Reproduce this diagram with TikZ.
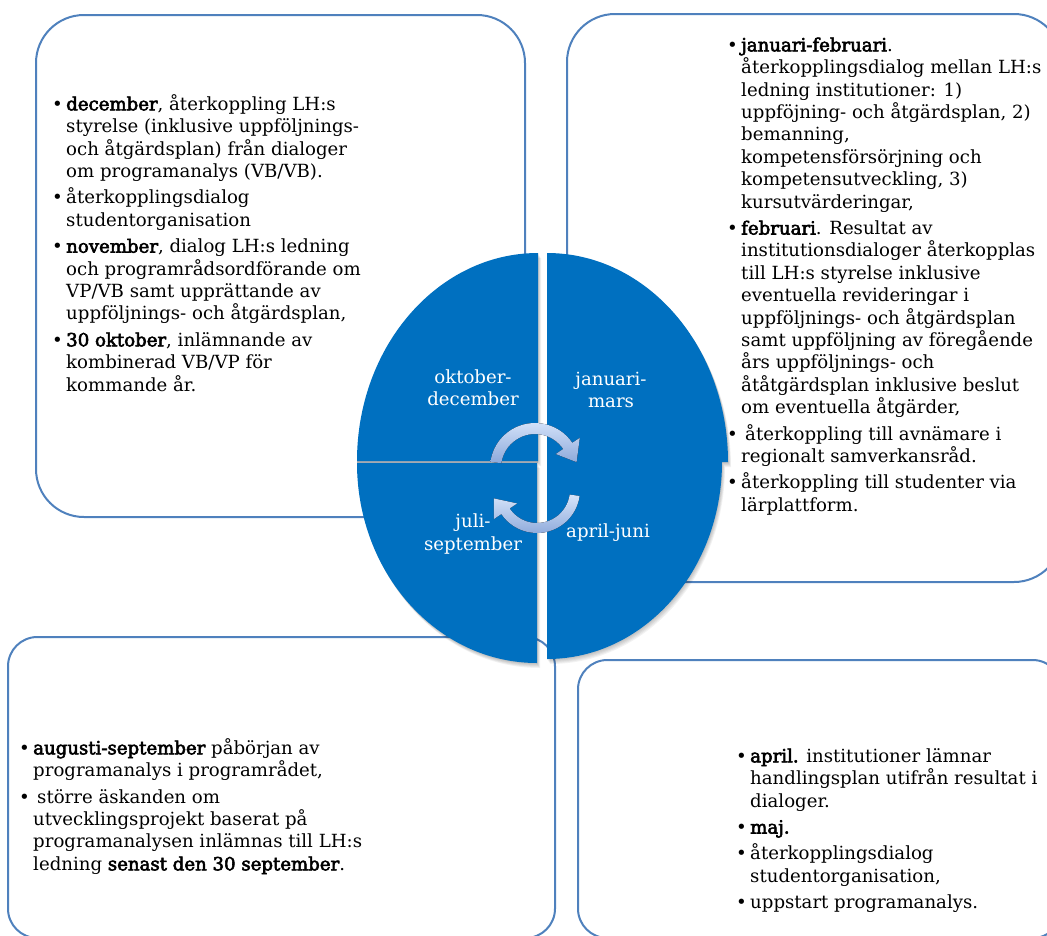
\documentclass[tikz,border=0pt]{standalone}
\usepackage{fontspec}
\setmainfont{DejaVu Serif}[BoldFont={DejaVu Serif}, BoldFeatures={FakeBold=3}]
\usetikzlibrary{calc}
\definecolor{boxblue}{RGB}{79,129,189}
\definecolor{quadblue}{RGB}{0,112,192}
\definecolor{arrtop}{RGB}{214,228,250}
\definecolor{arrbot}{RGB}{140,168,218}
\definecolor{gapgray}{RGB}{165,170,178}
\newcommand\bul{\makebox[8pt][l]{\hspace{-2.5pt}•}}
\newcommand\ind{\hspace*{8pt}}
\newcommand\fst{\rule{0pt}{13pt}}
\newcommand\qTL{(538,461) -- (357,461) arc[start angle=180, end angle=270, x radius=181, y radius=208] -- cycle}
\newcommand\qTR{(547,462) -- (547,253) arc[start angle=270, end angle=360, x radius=181, y radius=209] -- cycle}
\newcommand\qBR{(547,462) -- (722,462) arc[start angle=0, end angle=90, x radius=175, y radius=197] -- cycle}
\newcommand\qBL{(537,463) -- (537,663) arc[start angle=90, end angle=180, x radius=180, y radius=200] -- cycle}
\begin{document}
\begin{tikzpicture}[x=0.75pt, y=-0.75pt,
  bigbox/.style={draw=boxblue, line width=1.5pt, fill=white, rounded corners=36pt},
  smallbox/.style={draw=boxblue, line width=1.5pt, fill=white, rounded corners=22pt},
  txt/.style={align=left, inner sep=0pt, anchor=north west, text=black,
    font=\fontsize{13.6pt}{16.8pt}\selectfont},
  lab/.style={align=center, inner sep=0pt, text=white,
    font=\fontsize{13.6pt}{16.8pt}\selectfont},
  arrowfill/.style={top color=arrtop, bottom color=arrbot, draw=none}]
\useasboundingbox (0,0) rectangle (1047,936);
\clip (0,0) rectangle (1047,936);

% boxes
\draw[bigbox] (36,15) rectangle (525,517);
\draw[bigbox] (567,14) rectangle (1062,582);
\draw[smallbox] (8,637) rectangle (555,938);
\draw[smallbox] (578,660) rectangle (1062,938);

% box texts
\node[txt] (tltext) at (55.3,92.7) {\fst\bul\textbf{december}, återkoppling LH:s\\
\ind styrelse (inklusive uppföljnings-\\
\ind och åtgärdsplan) från dialoger\\
\ind om programanalys (VB/VB).\\[3pt]
\bul återkopplingsdialog\\
\ind studentorganisation\\[3pt]
\bul\textbf{november}, dialog LH:s ledning\\
\ind och programrådsordförande om\\
\ind VP/VB samt upprättande av\\
\ind uppföljnings- och åtgärdsplan,\\[3pt]
\bul\textbf{30 oktober}, inlämnande av\\
\ind kombinerad VB/VP för\\
\ind kommande år.};

\node[txt] (trtext) at (730.3,33.7) {\fst\bul\textbf{januari-februari}.\\
\ind återkopplingsdialog mellan LH:s\\
\ind ledning institutioner: 1)\\
\ind uppföjning- och åtgärdsplan, 2)\\
\ind bemanning,\\
\ind kompetensförsörjning och\\
\ind kompetensutveckling, 3)\\
\ind kursutvärderingar,\\[3pt]
\bul\textbf{februari}. Resultat av\\
\ind institutionsdialoger återkopplas\\
\ind till LH:s styrelse inklusive\\
\ind eventuella revideringar i\\
\ind uppföljnings- och åtgärdsplan\\
\ind samt uppföljning av föregående\\
\ind års uppföljnings- och\\
\ind åtåtgärdsplan inklusive beslut\\
\ind om eventuella åtgärder,\\[3pt]
\bul\hspace{3pt}återkoppling till avnämare i\\
\ind regionalt samverkansråd.\\[3pt]
\bul återkoppling till studenter via\\
\ind lärplattform.};

\node[txt] (bltext) at (22.3,736.7) {\fst\bul\textbf{augusti-september} påbörjan av\\
\ind programanalys i programrådet,\\[3pt]
\bul\hspace{3pt}större äskanden om\\
\ind utvecklingsprojekt baserat på\\
\ind programanalysen inlämnas till LH:s\\
\ind ledning \textbf{senast den 30 september}.};

\node[txt] (brtext) at (739.3,744.7) {\fst\bul\textbf{april.} institutioner lämnar\\
\ind handlingsplan utifrån resultat i\\
\ind dialoger.\\[3pt]
\bul\textbf{maj.}\\[3pt]
\bul återkopplingsdialog\\
\ind studentorganisation,\\[3pt]
\bul uppstart programanalys.};

% shadows of quadrants
\foreach \d in {1,2,3,4,5}{
  \fill[black, opacity=0.05, shift={(0.6*\d,1.0*\d)}] \qTL;
  \fill[black, opacity=0.05, shift={(0.6*\d,1.0*\d)}] \qTR;
  \fill[black, opacity=0.05, shift={(0.6*\d,1.0*\d)}] \qBR;
  \fill[black, opacity=0.05, shift={(0.6*\d,1.0*\d)}] \qBL;
}
\fill[gapgray] (357,461) rectangle (538,463);
% quadrants
\fill[quadblue] \qTL;
\fill[quadblue] \qTR;
\fill[quadblue] \qBR;
\fill[quadblue] \qBL;

% quadrant labels
\node[lab] (oktdec) at (473,388) {oktober-\\december};
\node[lab] (janmar) at (611,390) {januari-\\mars};
\node[lab] (julsep) at (473,534) {juli-\\september};
\node[lab] (aprjun) at (608,533) {april-juni};

% circular arrows
\coordinate (T) at (535,468);
\coordinate (B) at (537,490);
\fill[arrowfill] ($(T)+(188:45)$) arc[start angle=188, end angle=326, radius=45]
  -- ($(T)+(326:54)$) -- ($(T)+(352:42)$) -- ($(T)+(326:25)$)
  -- ($(T)+(326:34)$) arc[start angle=326, end angle=188, radius=34] -- cycle;
\fill[arrowfill] ($(B)+(8:43)$) arc[start angle=8, end angle=146, radius=43]
  -- ($(B)+(146:52)$) -- ($(B)+(169:44)$) -- ($(B)+(146:24)$)
  -- ($(B)+(146:33)$) arc[start angle=146, end angle=8, radius=33] -- cycle;
\end{tikzpicture}
\end{document}
